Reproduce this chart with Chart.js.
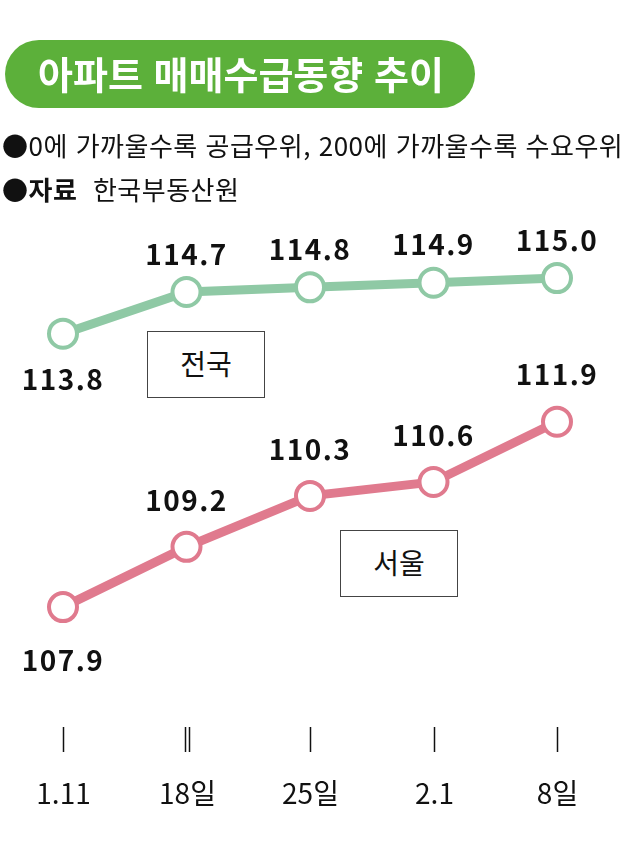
<!DOCTYPE html>
<html lang="ko">
<head>
<meta charset="utf-8">
<script src="https://cdn.jsdelivr.net/npm/chart.js@4.4.1/dist/chart.umd.min.js"></script>
<style>
  html, body { margin: 0; padding: 0; background: #fff; }
  #wrap { position: relative; width: 640px; height: 859px; overflow: hidden;
          font-family: "Noto Sans CJK KR", "Noto Sans", sans-serif; }
  #chart { position: absolute; left: 0; top: 0; }
  .title { position: absolute; left: 5px; top: 40px; width: 470px; height: 68px;
           background: #5cb03a; border-radius: 34px; color: #fff;
           font-weight: 700; font-size: 38px; line-height: 66px; text-indent: 33px;
           letter-spacing: 0px; }
  .note { position: absolute; left: 2px; font-size: 26px; color: #111;
          letter-spacing: 0.5px; white-space: nowrap; }
  .box { position: absolute; width: 116px; height: 65px; border: 1.5px solid #444;
         background: #fff; font-size: 28px; text-align: center; line-height: 63px; color: #111; }
</style>
</head>
<body>
<div id="wrap">
  <canvas id="chart" width="640" height="859"></canvas>
  <div class="title">아파트 매매수급동향 추이</div>
  <div class="note" style="top:126px">●0에 가까울수록 공급우위, 200에 가까울수록 수요우위</div>
  <div class="note" style="top:170px">●<b>자료</b>&nbsp; 한국부동산원</div>
  <div class="box" style="left:147px; top:331px">전국</div>
  <div class="box" style="left:340px; top:530px">서울</div>
</div>
<script>
// data
const categories = ['1.11', '18일', '25일', '2.1', '8일'];
const nationalValues = [113.8, 114.7, 114.8, 114.9, 115.0];
const seoulValues = [107.9, 109.2, 110.3, 110.6, 111.9];

const GREEN = '#8fc9a5';
const PINK = '#e07a8e';

// value labels + bottom tick marks / category labels
const labelPlugin = {
  id: 'labels',
  afterDatasetsDraw(chart) {
    const ctx = chart.ctx;
    ctx.save();
    ctx.fillStyle = '#111';
    ctx.textAlign = 'center';
    ctx.textBaseline = 'middle';
    ctx.font = 'bold 28px "Noto Sans CJK KR", "Noto Sans", sans-serif';
    ctx.letterSpacing = '1.5px';
    chart.data.datasets.forEach((ds, di) => {
      const meta = chart.getDatasetMeta(di);
      meta.data.forEach((pt, i) => {
        const below = i === 0;
        const dy = below ? (di === 0 ? 46 : 53) : (di === 0 ? -38 : -47);
        ctx.fillText(ds.data[i].toFixed(1), pt.x, pt.y + dy);
      });
    });

    const xs = chart.scales.x;
    ctx.strokeStyle = '#111';
    ctx.lineWidth = 1.5;
    ctx.letterSpacing = '0px';
    ctx.font = '28px "Noto Sans CJK KR", "Noto Sans", sans-serif';
    categories.forEach((c, i) => {
      const x = Math.round(xs.getPixelForValue(i)) + 0.5;
      const offs = i === 1 ? [-2, 2] : [0];
      offs.forEach(o => {
        ctx.beginPath();
        ctx.moveTo(x + o, 727);
        ctx.lineTo(x + o, 752);
        ctx.stroke();
      });
      ctx.fillText(c, x, 793);
    });
    ctx.restore();
  }
};

function series(data, color) {
  return {
    data: data,
    borderColor: color,
    borderWidth: 9,
    pointRadius: 14,
    pointBorderWidth: 4,
    pointBorderColor: color,
    pointBackgroundColor: '#fff',
    tension: 0,
    clip: false
  };
}

new Chart(document.getElementById('chart'), {
  type: 'line',
  data: {
    labels: categories,
    datasets: [series(nationalValues, GREEN), series(seoulValues, PINK)]
  },
  options: {
    responsive: false,
    animation: false,
    events: [],
    layout: { padding: { top: 241, bottom: 187, left: 63, right: 83 } },
    plugins: { legend: { display: false }, tooltip: { enabled: false } },
    scales: {
      x: { type: 'category', display: false, offset: false },
      y: { display: false, min: 106.5, max: 115.8 }
    }
  },
  plugins: [labelPlugin]
});
</script>
</body>
</html>
